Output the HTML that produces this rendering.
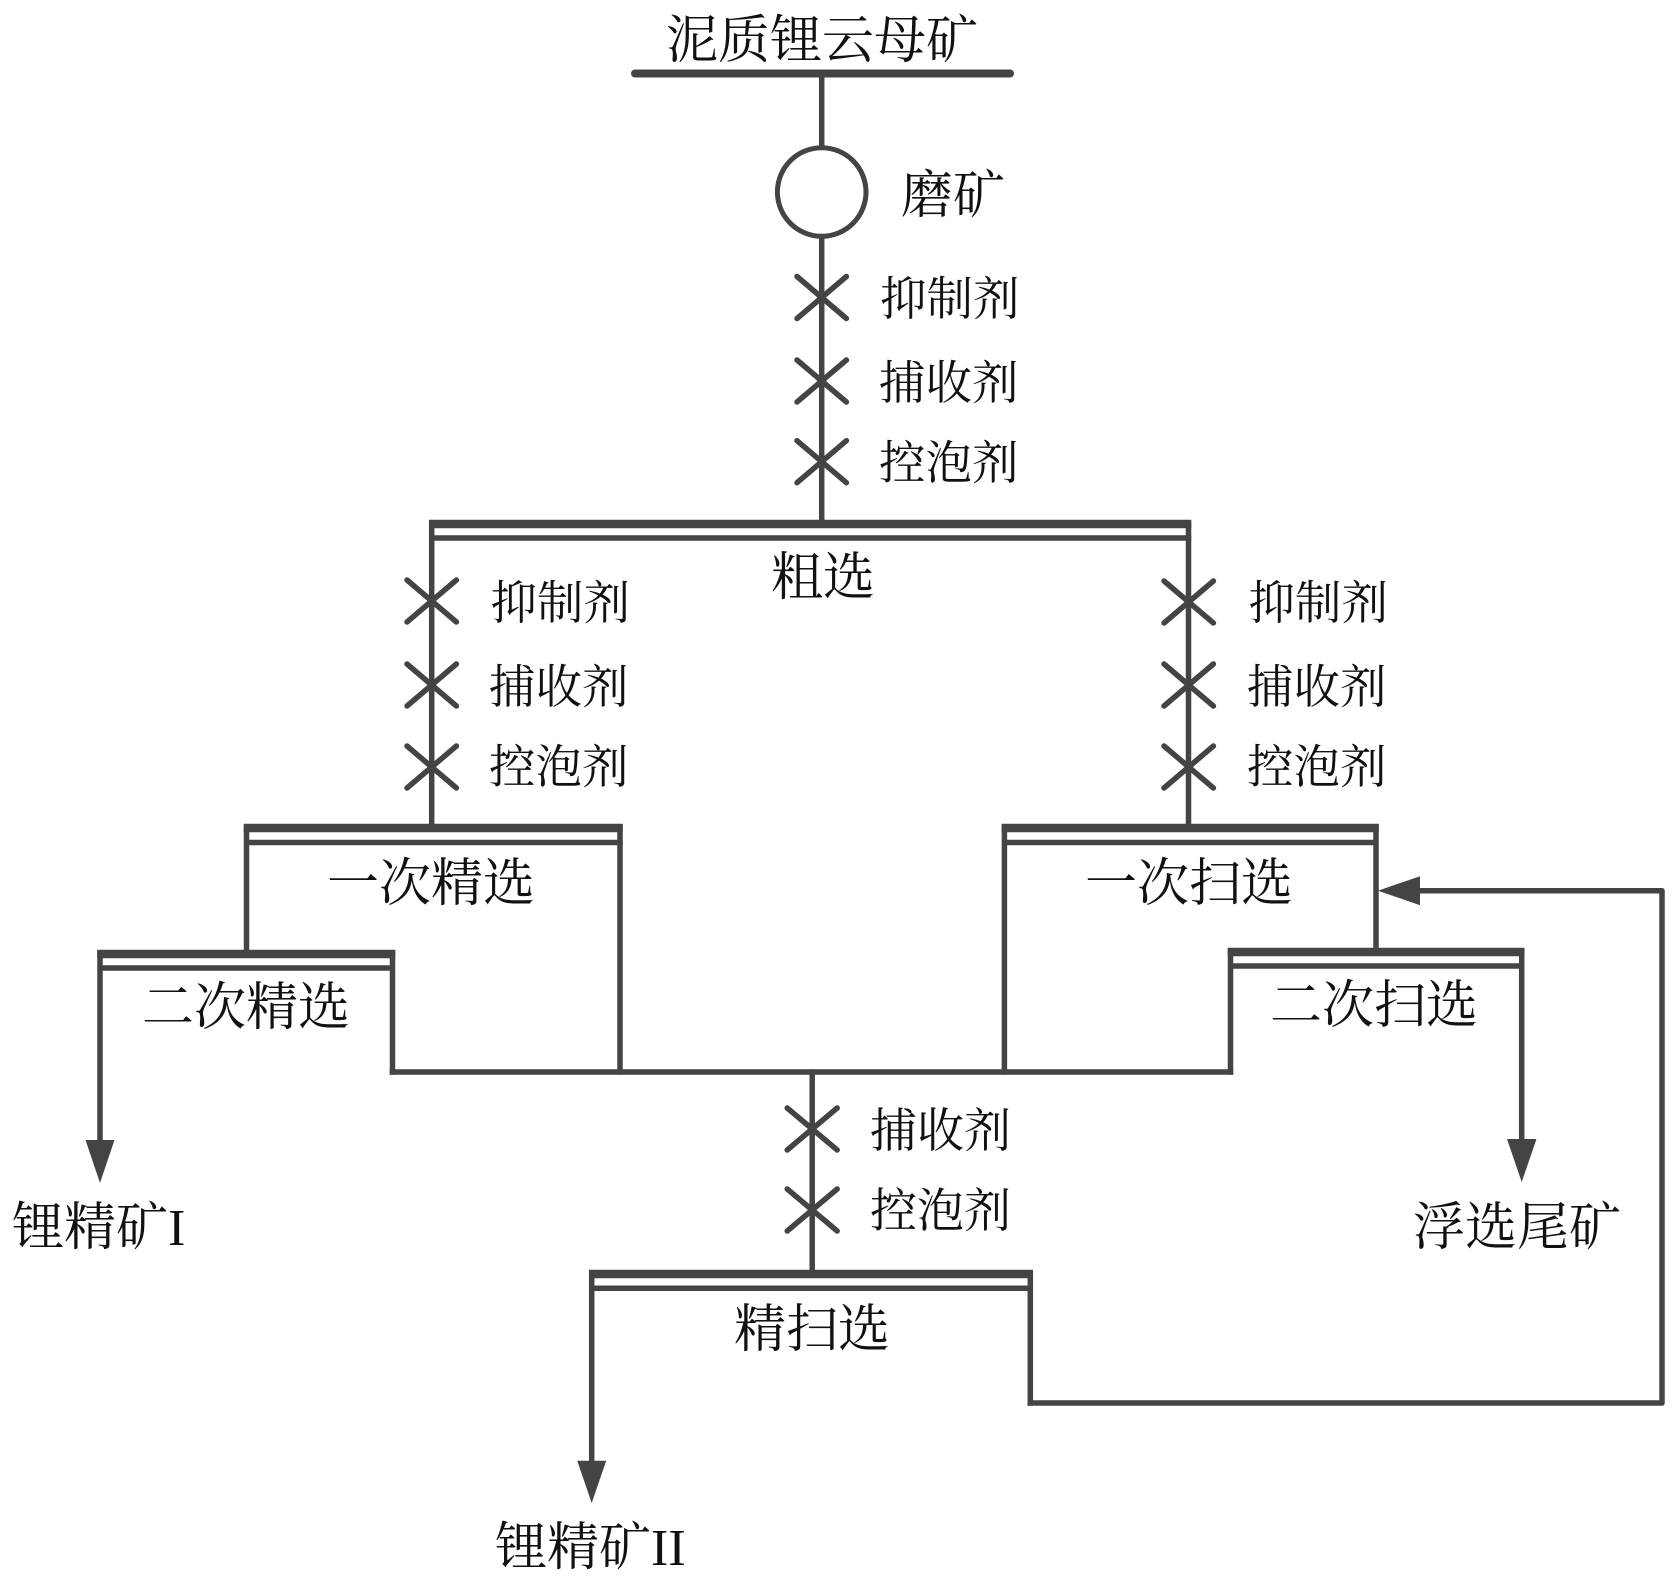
<!DOCTYPE html>
<html lang="zh">
<head>
<meta charset="utf-8">
<title>泥质锂云母矿</title>
<style>
html,body{margin:0;padding:0;background:#fff;width:1679px;height:1583px;overflow:hidden}
svg{display:block}
text{font-family:"Liberation Serif","Noto Serif CJK SC",serif;fill:#111}
.l{font-size:52px}
.s{font-size:46.5px}
.b{stroke-width:8.5;stroke-linecap:butt}
</style>
</head>
<body>
<svg width="1679" height="1583" viewBox="0 0 1679 1583" xmlns="http://www.w3.org/2000/svg">
<g fill="none" stroke="#444" stroke-width="5.5" stroke-linecap="square" stroke-linejoin="round">
  <!-- feed -->
  <line x1="635" y1="73.5" x2="1010" y2="73.5" stroke-width="8" stroke-linecap="round"/>
  <line x1="821.7" y1="73" x2="821.7" y2="146"/>
  <circle cx="821.7" cy="192" r="44.3" stroke-width="5"/>
  <line x1="821.7" y1="238" x2="821.7" y2="523"/>
  <!-- roughing -->
  <line class="b" x1="429" y1="524" x2="1191.3" y2="524"/>
  <line x1="432" y1="538" x2="1188.5" y2="538"/>
  <line x1="431.7" y1="524" x2="431.7" y2="827"/>
  <line x1="1188.5" y1="524" x2="1188.5" y2="827"/>
  <!-- first cleaning -->
  <line class="b" x1="243.7" y1="828" x2="622.8" y2="828"/>
  <line x1="248" y1="842.5" x2="620" y2="842.5"/>
  <line x1="246.5" y1="828" x2="246.5" y2="953"/>
  <line x1="620" y1="828" x2="620" y2="1072"/>
  <!-- second cleaning -->
  <line class="b" x1="97.2" y1="954" x2="395.3" y2="954"/>
  <line x1="101" y1="968" x2="392" y2="968"/>
  <line x1="100" y1="954" x2="100" y2="1145"/>
  <line x1="392.5" y1="954" x2="392.5" y2="1072"/>
  <!-- first scavenging -->
  <line class="b" x1="1001.6" y1="828" x2="1378.8" y2="828"/>
  <line x1="1006" y1="842.5" x2="1375" y2="842.5"/>
  <line x1="1004.4" y1="828" x2="1004.4" y2="1072"/>
  <line x1="1376" y1="828" x2="1376" y2="952"/>
  <!-- second scavenging -->
  <line class="b" x1="1227.7" y1="952" x2="1524.5" y2="952"/>
  <line x1="1232" y1="966" x2="1521" y2="966"/>
  <line x1="1230.5" y1="952" x2="1230.5" y2="1072"/>
  <line x1="1521.7" y1="952" x2="1521.7" y2="1145"/>
  <!-- collector -->
  <line x1="392.5" y1="1072" x2="1230.5" y2="1072"/>
  <line x1="812.2" y1="1072" x2="812.2" y2="1274"/>
  <!-- fine scavenging -->
  <line class="b" x1="589" y1="1274" x2="1033" y2="1274"/>
  <line x1="593" y1="1288.3" x2="1029" y2="1288.3"/>
  <line x1="591.7" y1="1274" x2="591.7" y2="1465"/>
  <line x1="1030.3" y1="1274" x2="1030.3" y2="1403"/>
  <polyline points="1030.3,1403 1662,1403 1662,890.7 1418,890.7"/>
  <!-- X marks -->
  <g stroke-linecap="round">
    <path d="M797 276.5L846.4 318.5M846.4 276.5L797 318.5"/>
    <path d="M797 360L846.4 402M846.4 360L797 402"/>
    <path d="M797 440.7L846.4 482.7M846.4 440.7L797 482.7"/>
    <path d="M407 580L456.4 622M456.4 580L407 622"/>
    <path d="M407 664L456.4 706M456.4 664L407 706"/>
    <path d="M407 746L456.4 788M456.4 746L407 788"/>
    <path d="M1164 581L1213.4 623M1213.4 581L1164 623"/>
    <path d="M1164 664L1213.4 706M1213.4 664L1164 706"/>
    <path d="M1164 746L1213.4 788M1213.4 746L1164 788"/>
    <path d="M787.2 1108L837.2 1150M837.2 1108L787.2 1150"/>
    <path d="M787.2 1189L837.2 1231M837.2 1189L787.2 1231"/>
  </g>
</g>
<!-- arrowheads -->
<g fill="#444" stroke="none">
  <polygon points="85.5,1140 114.5,1140 100,1183"/>
  <polygon points="1507,1139 1536.5,1139 1521.7,1182"/>
  <polygon points="577.2,1460.7 606.2,1460.7 591.7,1503"/>
  <polygon points="1378,890.7 1420,876.2 1420,905.2"/>
</g>
<!-- labels -->
<g>
  <text class="l" x="666" y="58">泥质锂云母矿</text>
  <text class="l" x="901" y="213">磨矿</text>
  <text class="s" x="880" y="315">抑制剂</text>
  <text class="s" x="879" y="399">捕收剂</text>
  <text class="s" x="879" y="479">控泡剂</text>
  <text class="l" x="771" y="595">粗选</text>
  <text class="s" x="490.5" y="619">抑制剂</text>
  <text class="s" x="489" y="703">捕收剂</text>
  <text class="s" x="489" y="783">控泡剂</text>
  <text class="s" x="1248.5" y="619">抑制剂</text>
  <text class="s" x="1247" y="703">捕收剂</text>
  <text class="s" x="1247" y="783">控泡剂</text>
  <text class="l" x="327" y="901">一次精选</text>
  <text class="l" x="142" y="1025">二次精选</text>
  <text class="l" x="1085" y="901">一次扫选</text>
  <text class="l" x="1270" y="1023">二次扫选</text>
  <text class="s" x="870" y="1147" style="font-size:47px">捕收剂</text>
  <text class="s" x="870" y="1227" style="font-size:47px">控泡剂</text>
  <text class="l" x="12" y="1245">锂精矿I</text>
  <text class="l" x="1413" y="1245">浮选尾矿</text>
  <text class="l" x="734" y="1347">精扫选</text>
  <text class="l" x="495" y="1565">锂精矿II</text>
</g>
</svg>
</body>
</html>
